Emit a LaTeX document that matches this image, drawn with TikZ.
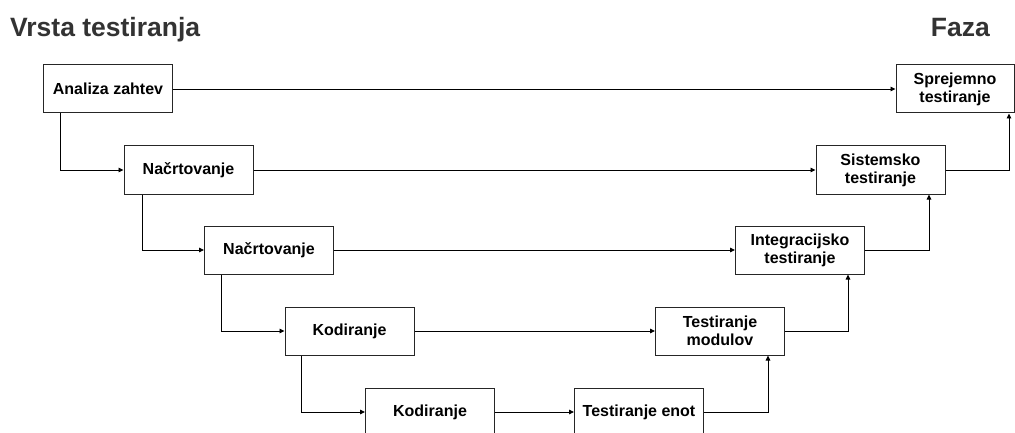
\documentclass[tikz,border=0pt]{standalone}
\usepackage{fontspec}
\setmainfont{Liberation Sans}
\usetikzlibrary{arrows.meta}
\definecolor{titlegray}{HTML}{333333}
\begin{document}
\begin{tikzpicture}[x=1pt,y=-1pt,
  box/.style={draw=black!85,line width=1pt,rectangle,minimum width=129pt,minimum height=48pt,inner sep=0pt,
    align=center,font=\bfseries\fontsize{16}{18}\selectfont},
  conn/.style={line width=0.9pt,-{Triangle[length=5pt,width=4.5pt]}},
  ttl/.style={font=\bfseries\fontsize{26.5}{30}\selectfont,text=titlegray,inner sep=0pt}]
\useasboundingbox (0,0) rectangle (1015,433);
\clip (0,0) rectangle (1015,433);
\node[ttl,anchor=base west] (t1) at (10,36.5) {Vrsta testiranja};
\node[ttl,anchor=base east] (t2) at (990,36.5) {Faza};
\node[box] (A) at (108,89) {Analiza zahtev};
\node[box] (N1) at (188.5,170) {Načrtovanje};
\node[box] (N2) at (269,250) {Načrtovanje};
\node[box] (K1) at (349.5,331) {Kodiranje};
\node[box] (K2) at (430,412) {Kodiranje};
\node[box] (TE) at (639,412) {Testiranje enot};
\node[box] (TM) at (720,331) {Testiranje\\modulov};
\node[box] (IT) at (800,250) {Integracijsko\\testiranje};
\node[box] (ST) at (880.5,170) {Sistemsko\\testiranje};
\node[box,minimum width=118pt] (SP) at (955,89) {Sprejemno\\testiranje};
% descending
\draw[conn] ([xshift=-48pt]A.south) |- (N1);
\draw[conn] ([xshift=-46.5pt]N1.south) |- (N2);
\draw[conn] ([xshift=-48pt]N2.south) |- (K1);
\draw[conn] ([xshift=-48.5pt]K1.south) |- (K2);
% horizontal
\draw[conn] (A) -- (SP);
\draw[conn] (N1) -- (ST);
\draw[conn] (N2) -- (IT);
\draw[conn] (K1) -- (TM);
\draw[conn] (K2) -- (TE);
% ascending
\draw[conn] (TE.east) -| ([xshift=48pt]TM.south);
\draw[conn] (TM.east) -| ([xshift=48pt]IT.south);
\draw[conn] (IT.east) -| ([xshift=48.5pt]ST.south);
\draw[conn] (ST.east) -| ([xshift=54pt]SP.south);
\end{tikzpicture}
\end{document}
